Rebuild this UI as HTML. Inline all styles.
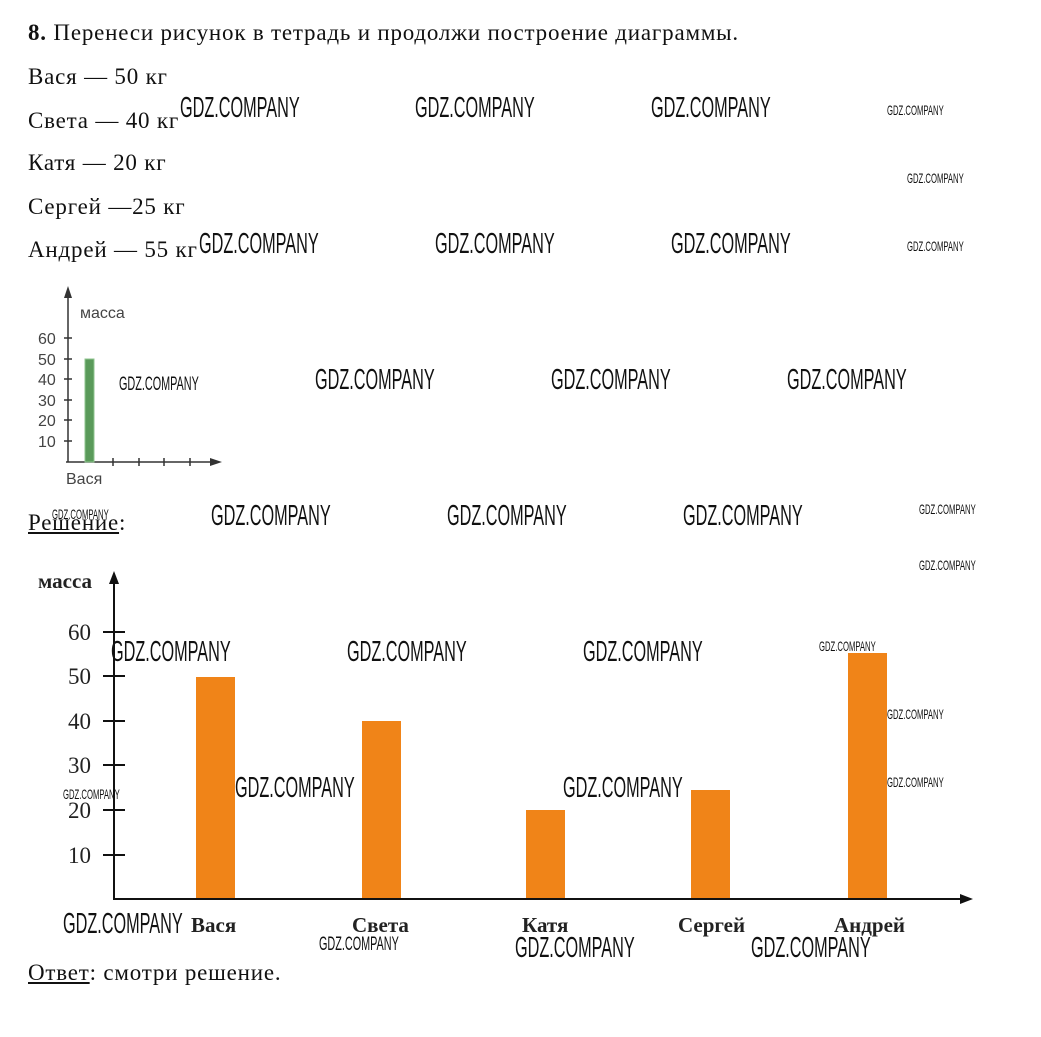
<!DOCTYPE html>
<html><head><meta charset="utf-8"><style>
body{margin:0;width:1041px;height:1037px;background:#fff;position:relative;overflow:hidden;font-family:"Liberation Serif",serif;color:#111}
.t{position:absolute;font-size:23px;letter-spacing:0.8px;white-space:nowrap;line-height:1}
.w{position:absolute;font-family:"Liberation Sans",sans-serif;font-size:29px;line-height:1;transform:scaleX(0.56);transform-origin:0 50%;white-space:nowrap;color:#111}
.s{font-size:14px;transform:scaleX(0.55)}
.m{font-size:19px;transform:scaleX(0.57)}
svg{position:absolute;left:0;top:0}
</style></head><body>
<div class="t" style="left:28px;top:21px"><b>8.</b> Перенеси рисунок в тетрадь и продолжи построение диаграммы.</div>
<div class="t" style="left:28px;top:65px">Вася — 50 кг</div>
<div class="t" style="left:28px;top:109px">Света — 40 кг</div>
<div class="t" style="left:28px;top:151px">Катя — 20 кг</div>
<div class="t" style="left:28px;top:195px">Сергей —25 кг</div>
<div class="t" style="left:28px;top:238px">Андрей — 55 кг</div>
<div class="t" style="left:28px;top:511px"><u>Решение</u>:</div>
<div class="t" style="left:28px;top:961px"><u>Ответ</u>: смотри решение.</div>

<svg width="1041" height="1037" xmlns="http://www.w3.org/2000/svg">
 <g stroke="#333" stroke-width="1.5" fill="none">
  <line x1="68" y1="292" x2="68" y2="462"/>
  <line x1="66" y1="462" x2="215" y2="462"/>
  <line x1="64" y1="338" x2="72" y2="338"/><line x1="64" y1="359" x2="72" y2="359"/>
  <line x1="64" y1="379" x2="72" y2="379"/><line x1="64" y1="400" x2="72" y2="400"/>
  <line x1="64" y1="420" x2="72" y2="420"/><line x1="64" y1="441" x2="72" y2="441"/>
  <line x1="113" y1="458" x2="113" y2="466"/><line x1="139" y1="458" x2="139" y2="466"/>
  <line x1="164" y1="458" x2="164" y2="466"/><line x1="190" y1="458" x2="190" y2="466"/>
 </g>
 <polygon points="68,286 64,298 72,298" fill="#333"/>
 <polygon points="222,462 210,458 210,466" fill="#333"/>
 <rect x="85" y="359" width="9" height="103" fill="#5a9a5a" stroke="#8fc48f"/>
 <g font-family="Liberation Sans, sans-serif" font-size="16" fill="#444">
  <text x="80" y="318">масса</text>
  <text x="38" y="344">60</text><text x="38" y="365">50</text><text x="38" y="385">40</text>
  <text x="38" y="406">30</text><text x="38" y="426">20</text><text x="38" y="447">10</text>
  <text x="66" y="484">Вася</text>
 </g>
 <g stroke="#111" stroke-width="2" fill="none">
  <line x1="114" y1="582" x2="114" y2="899"/>
  <line x1="113" y1="899" x2="962" y2="899"/>
  <line x1="103" y1="632" x2="125" y2="632"/><line x1="103" y1="676" x2="125" y2="676"/>
  <line x1="103" y1="721" x2="125" y2="721"/><line x1="103" y1="765" x2="125" y2="765"/>
  <line x1="103" y1="810" x2="125" y2="810"/><line x1="103" y1="855" x2="125" y2="855"/>
 </g>
 <polygon points="114,571 109,584 119,584" fill="#111"/>
 <polygon points="973,899 960,894 960,904" fill="#111"/>
 <g fill="#f08418">
  <rect x="196" y="677" width="39" height="221"/>
  <rect x="362" y="721" width="39" height="177"/>
  <rect x="526" y="810" width="39" height="88"/>
  <rect x="691" y="790" width="39" height="108"/>
  <rect x="848" y="653" width="39" height="245"/>
 </g>
 <g font-family="Liberation Serif, serif" font-size="23" fill="#222">
  <text x="68" y="640">60</text><text x="68" y="684">50</text><text x="68" y="729">40</text>
  <text x="68" y="773">30</text><text x="68" y="818">20</text><text x="68" y="863">10</text>
 </g>
 <g font-family="Liberation Serif, serif" font-size="21" font-weight="bold" fill="#222">
  <text x="38" y="588">масса</text>
  <text x="191" y="932">Вася</text><text x="352" y="932">Света</text>
  <text x="522" y="932">Катя</text><text x="678" y="932">Сергей</text><text x="834" y="932">Андрей</text>
 </g>
</svg>

<div class="w" style="left:180px;top:94px">GDZ.COMPANY</div>
<div class="w" style="left:415px;top:94px">GDZ.COMPANY</div>
<div class="w" style="left:651px;top:94px">GDZ.COMPANY</div>
<div class="w s" style="left:887px;top:103px">GDZ.COMPANY</div>
<div class="w s" style="left:907px;top:171px">GDZ.COMPANY</div>
<div class="w" style="left:199px;top:230px">GDZ.COMPANY</div>
<div class="w" style="left:435px;top:230px">GDZ.COMPANY</div>
<div class="w" style="left:671px;top:230px">GDZ.COMPANY</div>
<div class="w s" style="left:907px;top:239px">GDZ.COMPANY</div>
<div class="w m" style="left:119px;top:375px">GDZ.COMPANY</div>
<div class="w" style="left:315px;top:366px">GDZ.COMPANY</div>
<div class="w" style="left:551px;top:366px">GDZ.COMPANY</div>
<div class="w" style="left:787px;top:366px">GDZ.COMPANY</div>
<div class="w s" style="left:52px;top:507px">GDZ.COMPANY</div>
<div class="w" style="left:211px;top:502px">GDZ.COMPANY</div>
<div class="w" style="left:447px;top:502px">GDZ.COMPANY</div>
<div class="w" style="left:683px;top:502px">GDZ.COMPANY</div>
<div class="w s" style="left:919px;top:502px">GDZ.COMPANY</div>
<div class="w s" style="left:919px;top:558px">GDZ.COMPANY</div>
<div class="w" style="left:111px;top:638px">GDZ.COMPANY</div>
<div class="w" style="left:347px;top:638px">GDZ.COMPANY</div>
<div class="w" style="left:583px;top:638px">GDZ.COMPANY</div>
<div class="w s" style="left:819px;top:639px">GDZ.COMPANY</div>
<div class="w s" style="left:887px;top:707px">GDZ.COMPANY</div>
<div class="w s" style="left:63px;top:787px">GDZ.COMPANY</div>
<div class="w" style="left:235px;top:774px">GDZ.COMPANY</div>
<div class="w" style="left:563px;top:774px">GDZ.COMPANY</div>
<div class="w s" style="left:887px;top:775px">GDZ.COMPANY</div>
<div class="w" style="left:63px;top:910px">GDZ.COMPANY</div>
<div class="w m" style="left:319px;top:935px">GDZ.COMPANY</div>
<div class="w" style="left:515px;top:934px">GDZ.COMPANY</div>
<div class="w" style="left:751px;top:934px">GDZ.COMPANY</div>
</body></html>
